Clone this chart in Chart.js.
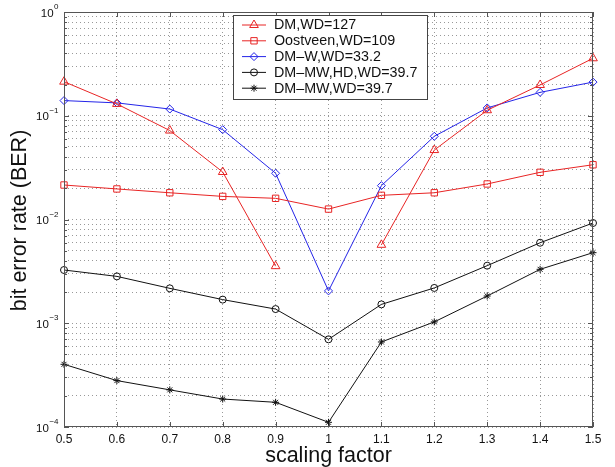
<!DOCTYPE html>
<html>
<head>
<meta charset="utf-8">
<script src="https://cdn.jsdelivr.net/npm/chart.js@4.4.1/dist/chart.umd.min.js"></script>
<style>
  html, body { margin: 0; padding: 0; background: #fff; }
  #wrap { width: 615px; height: 467px; }
</style>
</head>
<body>
<div id="wrap"><canvas id="berChart" width="615" height="467"></canvas></div>
<script>
// Data
const scalingFactors = [0.5, 0.6, 0.7, 0.8, 0.9, 1.0, 1.1, 1.2, 1.3, 1.4, 1.5];
const xTickLabels = ['0.5', '0.6', '0.7', '0.8', '0.9', '1', '1.1', '1.2', '1.3', '1.4', '1.5'];
const yTickExponents = [-4, -3, -2, -1, 0];

const seriesLabels = ['DM,WD=127', 'Oostveen,WD=109', 'DM–W,WD=33.2', 'DM–MW,HD,WD=39.7', 'DM–MW,WD=39.7'];
const dmWd127 = [0.213, 0.13, 0.072, 0.0287, 0.00355, null, 0.0057, 0.0467, 0.113, 0.198, 0.358];
const oostveenWd109 = [0.0215, 0.0197, 0.0181, 0.0167, 0.016, 0.0126, 0.0171, 0.0181, 0.022, 0.0285, 0.0337];
const dmWWd332 = [0.14, 0.133, 0.116, 0.0734, 0.0279, 0.00205, 0.0212, 0.0634, 0.119, 0.168, 0.211];
const dmMwHdWd397 = [0.00326, 0.00283, 0.00217, 0.00169, 0.00137, 0.0007, 0.00152, 0.00219, 0.00359, 0.00597, 0.00925];
const dmMwWd397 = [0.000402, 0.00028, 0.000228, 0.000186, 0.000173, 0.000111, 0.00066, 0.00103, 0.00183, 0.00331, 0.00479];

const RED = 'rgb(232, 36, 36)';
const BLUE = 'rgb(36, 36, 232)';
const BLACK = '#111';
const FONT = '"Liberation Sans", Arial, Helvetica, sans-serif';

function toPoints(values) {
    return scalingFactors.map((x, i) => ({ x: x, y: values[i] }));
}

function makeDataset(label, values, color, style, radius) {
    return {
        label: label,
        data: toPoints(values),
        borderColor: color,
        backgroundColor: 'rgba(0,0,0,0)',
        borderWidth: 1,
        pointStyle: style,
        pointRadius: radius,
        pointBorderColor: color,
        pointBackgroundColor: 'rgba(0,0,0,0)',
        pointBorderWidth: 1,
        tension: 0,
        spanGaps: false,
        clip: false
    };
}

// minor + major ticks for the log axis (grid at 1..9 x 10^k)
function logTicks() {
    const ticks = [];
    for (let e = yTickExponents[0]; e < yTickExponents[yTickExponents.length - 1]; e++) {
        for (let m = 1; m < 10; m++) ticks.push({ value: m * Math.pow(10, e), major: m === 1 });
    }
    ticks.push({ value: Math.pow(10, yTickExponents[yTickExponents.length - 1]), major: true });
    return ticks;
}

// box, inner tick marks, y tick labels, axis titles and legend
const matlabFrame = {
    id: 'matlabFrame',
    afterDraw(chart) {
        const { ctx, chartArea: a, scales: { x, y } } = chart;
        ctx.save();
        ctx.strokeStyle = '#555';
        ctx.lineWidth = 1;

        ctx.beginPath();
        x.ticks.forEach(t => {
            const px = Math.round(x.getPixelForValue(t.value)) + 0.5;
            ctx.moveTo(px, a.bottom); ctx.lineTo(px, a.bottom - 5);
            ctx.moveTo(px, a.top); ctx.lineTo(px, a.top + 5);
        });
        y.ticks.forEach(t => {
            const py = Math.round(y.getPixelForValue(t.value)) + 0.5;
            const len = t.major ? 5 : 3;
            ctx.moveTo(a.left, py); ctx.lineTo(a.left + len, py);
            ctx.moveTo(a.right, py); ctx.lineTo(a.right - len, py);
        });
        ctx.stroke();
        ctx.strokeRect(Math.round(a.left) + 0.5, Math.round(a.top) + 0.5,
            Math.round(a.width) - 1, Math.round(a.height) - 1);

        // y tick labels 10^k
        ctx.fillStyle = '#111';
        yTickExponents.forEach(e => {
            const py = y.getPixelForValue(Math.pow(10, e));
            const expText = e === 0 ? '0' : '−' + Math.abs(e);
            ctx.font = '8px ' + FONT;
            const expW = ctx.measureText(expText).width;
            const baseRight = 58 - expW;
            ctx.textBaseline = 'middle';
            ctx.textAlign = 'left';
            ctx.fillText(expText, baseRight + 0.5, py - 5);
            ctx.font = '11.5px ' + FONT;
            ctx.textAlign = 'right';
            ctx.fillText('10', baseRight, py + 1.5);
        });

        // axis titles
        ctx.font = '21.5px ' + FONT;
        ctx.textAlign = 'center';
        ctx.textBaseline = 'alphabetic';
        ctx.fillText('scaling factor', (a.left + a.right) / 2, 462);
        ctx.save();
        ctx.translate(26, (a.top + a.bottom) / 2 + 1);
        ctx.rotate(-Math.PI / 2);
        ctx.fillText('bit error rate (BER)', 0, 0);
        ctx.restore();

        // legend box
        const box = { left: 233, top: 15, right: 427, bottom: 99 };
        ctx.fillStyle = '#fff';
        ctx.fillRect(box.left, box.top, box.right - box.left, box.bottom - box.top);
        ctx.strokeStyle = '#444';
        ctx.strokeRect(box.left + 0.5, box.top + 0.5, box.right - box.left, box.bottom - box.top);
        chart.data.datasets.forEach((ds, i) => {
            const ly = 25 + i * 15.8;
            ctx.strokeStyle = ds.borderColor;
            ctx.lineWidth = 1;
            ctx.beginPath();
            ctx.moveTo(242, ly); ctx.lineTo(266, ly);
            ctx.stroke();
            ctx.fillStyle = 'rgba(0,0,0,0)';
            Chart.helpers.drawPoint(ctx, {
                pointStyle: ds.pointStyle,
                radius: ds.pointRadius,
                rotation: 0,
                borderWidth: 1
            }, 254, ly);
            ctx.fillStyle = '#111';
            ctx.font = '14.3px ' + FONT;
            ctx.textAlign = 'left';
            ctx.textBaseline = 'middle';
            ctx.fillText(ds.label, 274, ly + 0.5);
        });
        ctx.restore();
    }
};

const chart = new Chart(document.getElementById('berChart').getContext('2d'), {
    type: 'line',
    data: {
        datasets: [
            makeDataset(seriesLabels[0], dmWd127, RED, 'triangle', 5),
            makeDataset(seriesLabels[1], oostveenWd109, RED, 'rect', 4.5),
            makeDataset(seriesLabels[2], dmWWd332, BLUE, 'rectRot', 4),
            makeDataset(seriesLabels[3], dmMwHdWd397, BLACK, 'circle', 3.5),
            makeDataset(seriesLabels[4], dmMwWd397, BLACK, 'star', 3.5)
        ]
    },
    options: {
        responsive: false,
        animation: false,
        devicePixelRatio: 1,
        layout: { padding: { top: 12, right: 22, left: 0, bottom: 0 } },
        plugins: {
            legend: { display: false },
            tooltip: { enabled: false }
        },
        scales: {
            x: {
                type: 'linear',
                min: 0.5,
                max: 1.5,
                afterFit(scale) { scale.height = 40; },
                ticks: {
                    stepSize: 0.1,
                    padding: 5,
                    color: '#111',
                    font: { family: FONT, size: 12 },
                    callback: (value, index) => xTickLabels[index]
                },
                grid: {
                    color: 'rgba(0,0,0,0.4)',
                    drawTicks: false
                },
                border: { display: false, dash: [1, 3] }
            },
            y: {
                type: 'logarithmic',
                min: Math.pow(10, yTickExponents[0]),
                max: Math.pow(10, yTickExponents[yTickExponents.length - 1]),
                afterFit(scale) { scale.width = 64; },
                afterBuildTicks(scale) { scale.ticks = logTicks(); },
                ticks: { display: false },
                grid: {
                    color: 'rgba(0,0,0,0.4)',
                    drawTicks: false
                },
                border: { display: false, dash: [1, 3] }
            }
        }
    },
    plugins: [matlabFrame]
});
</script>
</body>
</html>
